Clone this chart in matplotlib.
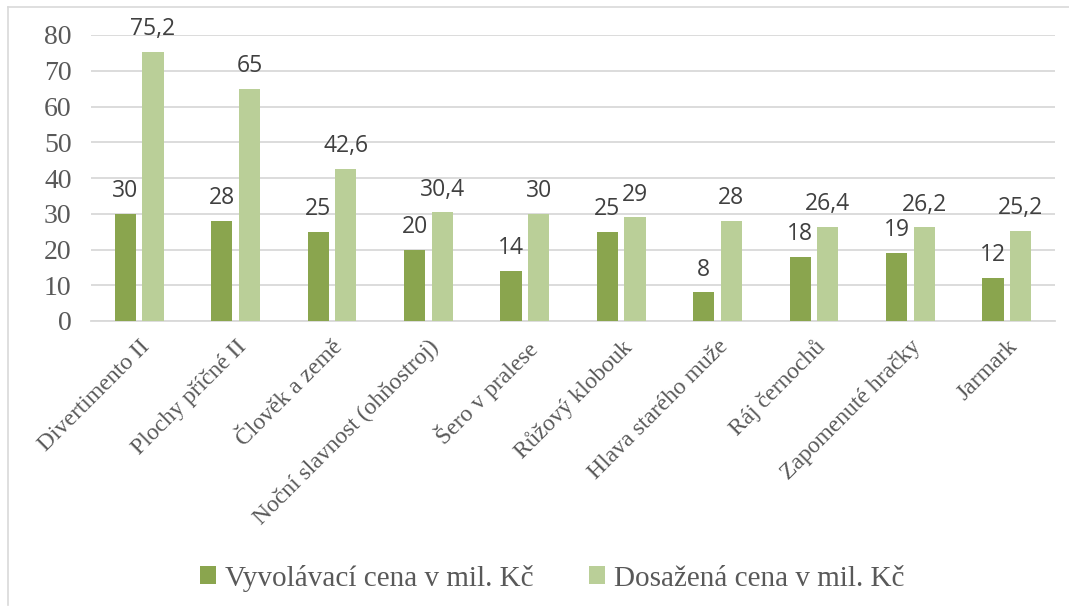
import matplotlib
matplotlib.use("Agg")
import matplotlib.pyplot as plt
from matplotlib.lines import Line2D
import matplotlib.transforms as mtransforms
import numpy as np

categories = ["Divertimento II", "Plochy příčné II", "Člověk a země",
              "Noční slavnost (ohňostroj)", "Šero v pralese", "Růžový klobouk",
              "Hlava starého muže", "Ráj černochů", "Zapomenuté hračky", "Jarmark"]
vyvolavaci = [30, 28, 25, 20, 14, 25, 8, 18, 19, 12]
dosazena = [75.2, 65, 42.6, 30.4, 30, 29, 28, 26.4, 26.2, 25.2]
series_names = ["Vyvolávací cena v mil. Kč", "Dosažená cena v mil. Kč"]
yticks = [0, 10, 20, 30, 40, 50, 60, 70, 80]

W, H = 1069, 609
fig = plt.figure(figsize=(W / 100, H / 100), dpi=100)
ax = fig.add_axes([91 / W, 1 - 321 / H, (1055 - 91) / W, (321 - 35) / H])

dark = "#8AA54E"
light = "#BACF98"
grid = "#D9D9D9"
txt = "#595959"
serif = "Liberation Serif"
sans = "Open Sans"

x = np.arange(len(categories))
bw = 0.22
off = 0.143
b1 = ax.bar(x - off, vyvolavaci, bw, color=dark, label=series_names[0], zorder=3)
b2 = ax.bar(x + off, dosazena, bw, color=light, label=series_names[1], zorder=3)

def fmt(v):
    return ("%g" % v).replace(".", ",")

for bars, vals in ((b1, vyvolavaci), (b2, dosazena)):
    for r, v in zip(bars, vals):
        ax.annotate(fmt(v), (r.get_x() + r.get_width() / 2, v), xytext=(0, 12),
                    textcoords="offset points", ha="center", va="baseline",
                    fontsize=16.5, color="#404040", family=sans)

ax.set_xlim(-0.5, len(categories) - 0.5)
ax.set_ylim(0, 80)
ax.set_yticks(yticks)
ax.set_yticklabels([str(t) for t in yticks], family=serif, fontsize=20, color=txt)
ax.yaxis.grid(True, color=grid, linewidth=1.3, zorder=0)
ax.set_axisbelow(True)
ax.set_xticks(x)
ax.set_xticklabels(categories, rotation=45, ha="right", va="top",
                   rotation_mode="anchor", family=serif, fontsize=17, color=txt)
shift = mtransforms.ScaledTranslation(5 / 100, 0, fig.dpi_scale_trans)
for lab in ax.get_xticklabels():
    lab.set_transform(lab.get_transform() + shift)
ax.tick_params(axis="both", length=0)
ax.tick_params(axis="y", pad=14)
ax.tick_params(axis="x", pad=11)
for s in ("left", "right", "top"):
    ax.spines[s].set_visible(False)
ax.spines["bottom"].set_color(grid)
ax.spines["bottom"].set_linewidth(1.3)

leg = fig.legend(handles=[b1, b2], labels=series_names, loc="center",
                 bbox_to_anchor=(552 / W, 1 - 578 / H), ncol=2, frameon=False,
                 prop={"family": serif, "size": 21}, handlelength=0.55, handleheight=0.55,
                 handletextpad=0.3, columnspacing=1.9)
for t in leg.get_texts():
    t.set_color(txt)

fig.add_artist(Line2D([8 / W, 8 / W], [1 - 7 / H, 1 - 605 / H], transform=fig.transFigure,
                      color=grid, linewidth=1.2))
fig.add_artist(Line2D([8 / W, 1.0], [1 - 7 / H, 1 - 7 / H], transform=fig.transFigure,
                      color=grid, linewidth=1.2))

fig.savefig("out.png", dpi=100, facecolor="white")
